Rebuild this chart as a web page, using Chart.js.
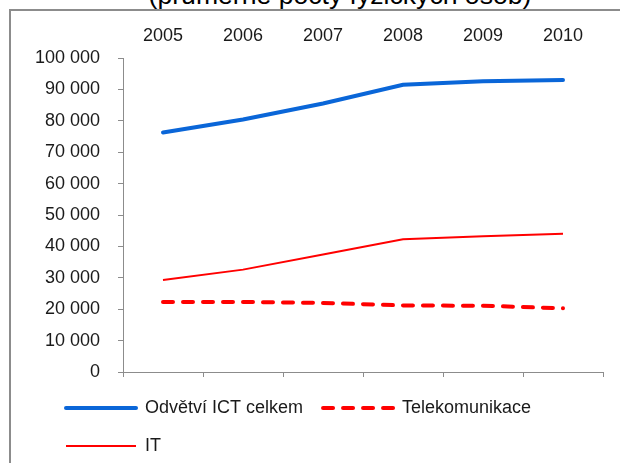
<!DOCTYPE html>
<html>
<head>
<meta charset="utf-8">
<script src="https://cdn.jsdelivr.net/npm/chart.js@4"></script>
<style>
  html, body { margin: 0; padding: 0; background: #fff; overflow: hidden; }
  body { width: 620px; height: 463px; position: relative; font-family: "Liberation Sans", Arial, sans-serif; }
  #frame { position: absolute; left: 9px; top: 9px; width: 700px; height: 500px;
           border-left: 2px solid #8c8c8c; border-top: 2px solid #8c8c8c; }
  #title { position: absolute; left: 340px; top: -18px; transform: translateX(-50%);
           white-space: nowrap; font-size: 26.6px; line-height: 26px; color: #000; }
  #wrap { position: absolute; left: 0; top: 0; }
</style>
</head>
<body>
<div id="frame"></div>
<div id="title">(průměrné počty fyzických osob)</div>
<div id="wrap"><canvas id="chart" width="620" height="465"></canvas></div>
<script>
// roky (kategorie osy x)
const years = ["2005", "2006", "2007", "2008", "2009", "2010"];

// průměrné počty fyzických osob
const ictTotal = [76300, 80400, 85500, 91500, 92600, 93000];
const telecom = [22300, 22300, 22000, 21200, 21100, 20300];
const itServices = [29300, 32600, 37400, 42300, 43200, 44000];

const yMax = 100000;
const yStep = 10000;

const axisGray = "#8c8c8c";
const textColor = "#1a1a1a";
const font = { family: "'Liberation Sans', Arial, sans-serif", size: 18 };

function fmt(v) {
  return String(v).replace(/\B(?=(\d{3})+(?!\d))/g, " ");
}

// legenda v Excelu začíná dál vpravo než osa y
const legendShift = {
  id: "legendShift",
  afterLayout(chart) {
    chart.legend.left += 31;
    chart.legend.right += 31;
  }
};

const ctx = document.getElementById("chart").getContext("2d");
new Chart(ctx, {
  type: "line",
  data: {
    labels: years,
    datasets: [
      {
        label: "Odvětví ICT celkem",
        data: ictTotal,
        borderColor: "#0a66d8",
        backgroundColor: "#0a66d8",
        borderWidth: 4,
        borderCapStyle: "round",
        pointRadius: 0,
        tension: 0
      },
      {
        label: "Telekomunikace",
        data: telecom,
        borderColor: "#ff0000",
        backgroundColor: "#ff0000",
        borderWidth: 4,
        borderDash: [10, 10],
        borderCapStyle: "round",
        pointRadius: 0,
        tension: 0
      },
      {
        label: "IT",
        data: itServices,
        borderColor: "#ff0000",
        backgroundColor: "#ff0000",
        borderWidth: 2,
        pointRadius: 0,
        tension: 0
      }
    ]
  },
  options: {
    responsive: false,
    animation: false,
    layout: { padding: { left: 15, right: 17, top: 0, bottom: 0 } },
    plugins: {
      title: { display: false },
      tooltip: { enabled: false },
      legend: {
        position: "bottom",
        align: "start",
        labels: {
          usePointStyle: true,
          pointStyle: "line",
          pointStyleWidth: 70,
          padding: 20,
          color: textColor,
          font: font,
          generateLabels: (chart) => {
            const items = Chart.defaults.plugins.legend.labels.generateLabels(chart);
            items.forEach((it) => {
              const ds = chart.data.datasets[it.datasetIndex];
              it.lineDash = ds.borderDash || [];
              it.lineCap = ds.borderCapStyle || "butt";
              it.lineWidth = ds.borderWidth;
              it.strokeStyle = ds.borderColor;
            });
            return items;
          }
        }
      }
    },
    scales: {
      x: {
        type: "category",
        position: "bottom",
        offset: true,
        grid: { offset: true, drawOnChartArea: false, color: axisGray, tickLength: 5 },
        border: { color: axisGray },
        ticks: { display: false },
        afterFit: (s) => { s.height = 7; }
      },
      xTop: {
        type: "category",
        position: "top",
        labels: years,
        offset: true,
        grid: { display: false, drawTicks: false },
        border: { display: false },
        ticks: { color: textColor, font: font, padding: 11, maxRotation: 0 },
        afterFit: (s) => { s.height = 58; }
      },
      y: {
        min: 0,
        max: yMax,
        grid: { drawOnChartArea: false, color: axisGray, tickLength: 5 },
        border: { color: axisGray },
        ticks: { stepSize: yStep, color: textColor, font: font, padding: 18, callback: (v) => fmt(v) },
        afterFit: (s) => { s.width = 108; }
      }
    }
  },
  plugins: [legendShift]
});
</script>
</body>
</html>
